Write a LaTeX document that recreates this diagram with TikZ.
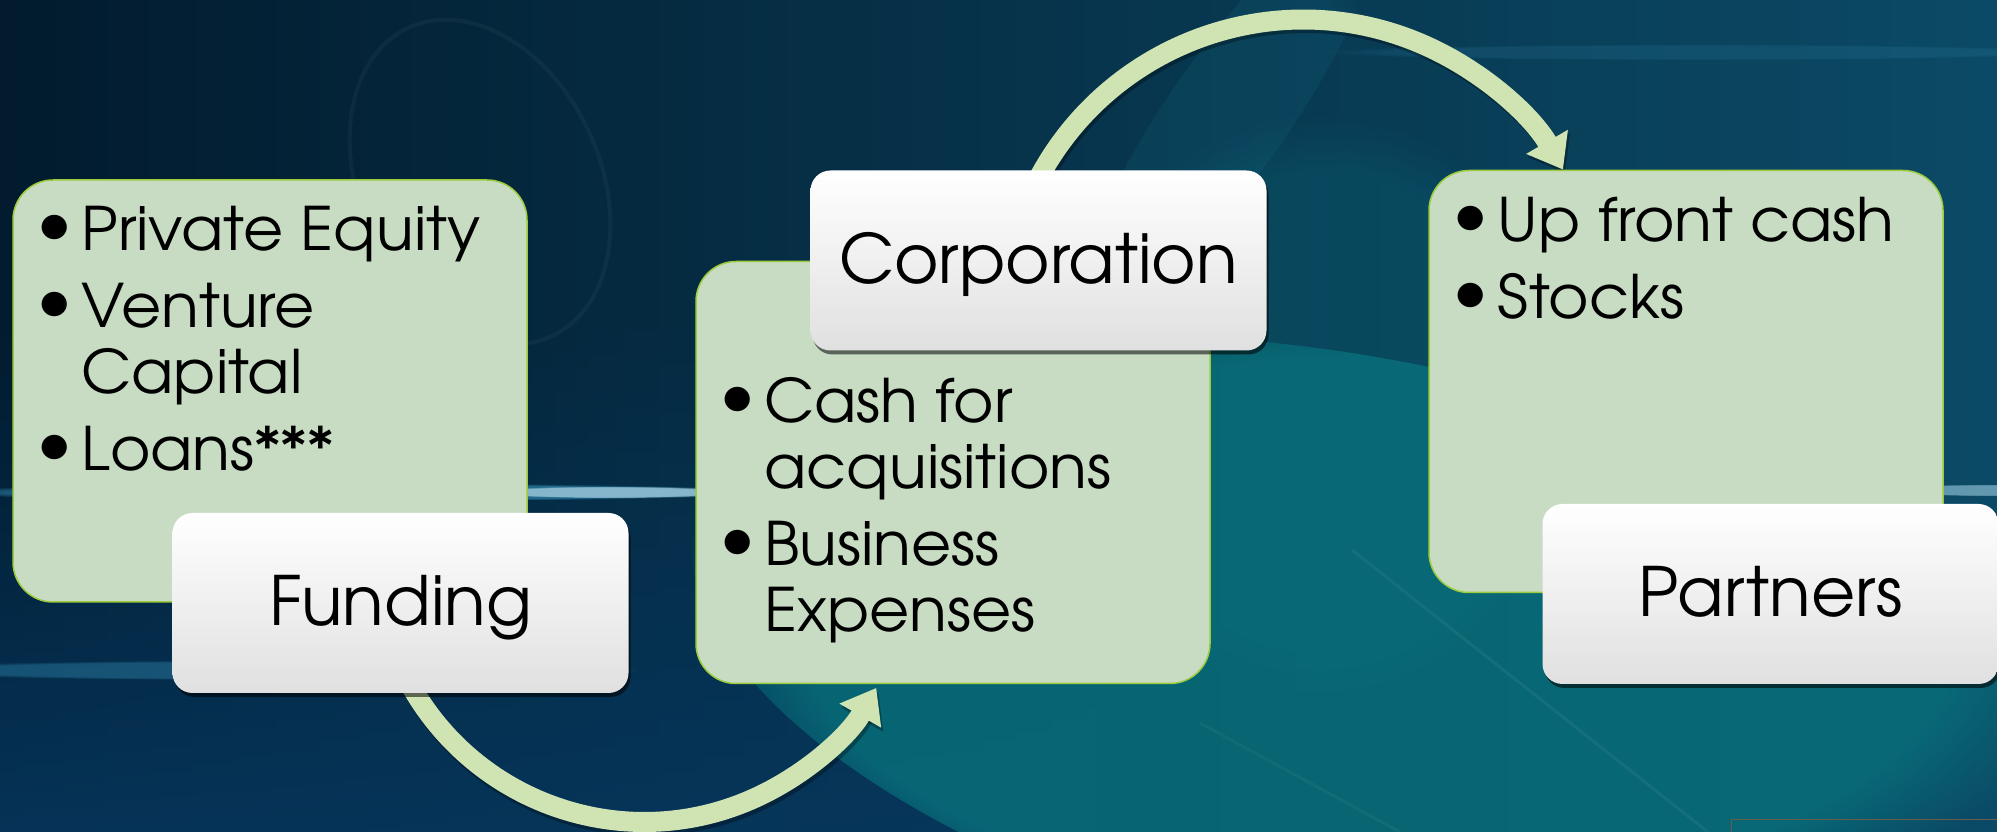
\documentclass[tikz,border=0pt]{standalone}
\usepackage{fontspec}
\setmainfont{TeX Gyre Adventor}
\newfontfamily\listfont[FakeStretch=1.03]{TeX Gyre Adventor}
\usetikzlibrary{arrows.meta,shadows,fadings}

\definecolor{bgdark}{HTML}{021B2E}
\definecolor{bgmid}{HTML}{083C5C}
\definecolor{bgright}{HTML}{0B4A66}
\definecolor{bgnavy}{HTML}{06375E}
\definecolor{tealglow}{HTML}{08717B}
\definecolor{beam}{HTML}{1B7C92}
\definecolor{streak}{HTML}{3A9CC4}
\definecolor{sage}{HTML}{C8DCC3}
\definecolor{sageedge}{HTML}{9CCB3C}
\definecolor{flowgreen}{HTML}{CFE4B2}
\definecolor{cardgray}{HTML}{E0E0E0}
\definecolor{frameline}{HTML}{6B5B4B}

\pgfdeclarelayer{bglayer}
\pgfdeclarelayer{flowlayer}
\pgfsetlayers{bglayer,flowlayer,main}

% one bulleted line, and a continuation line with the same hanging indent
\newcommand{\listbullet}{\rlap{\hspace{-2pt}\raisebox{6pt}{\fontsize{68}{68}\selectfont\textbullet}}\hspace{43pt}}
\newcommand{\listline}[1]{\hbox{\listbullet#1}}
\newcommand{\listcont}[1]{\hbox{\hspace{43pt}#1}}
\newcommand{\itemgap}{\vskip 11pt}

\begin{document}
\begin{tikzpicture}[x=1pt,y=1pt,
  panel/.style={draw=sageedge, line width=1.5pt, fill=sage, rounded corners=40pt,
    minimum width=514pt, minimum height=422pt, inner sep=0pt},
  card/.style={rounded corners=20pt, minimum width=456pt, minimum height=180pt,
    inner sep=0pt, top color=white, middle color=white!97!cardgray, bottom color=cardgray,
    drop shadow={shadow xshift=2pt, shadow yshift=-4pt, opacity=0.55, fill=black},
    font=\fontsize{68}{68}\selectfont, text height=50pt, text depth=4pt},
  listtext/.style={inner sep=0pt, anchor=base west,
    font=\listfont\fontsize{60}{66}\selectfont},
  flow/.style={draw=flowgreen, line width=20pt,
    -{Triangle[length=32pt, width=46pt]}},
  flowshadow/.style={draw=black, opacity=0.3, line width=20pt,
    -{Triangle[length=32pt, width=46pt]}},
  glow/.style={path fading=circle with fuzzy edge 20 percent}
]
\useasboundingbox (0,0) rectangle (1997,832);

% ---------- backdrop ----------
\begin{pgfonlayer}{bglayer}
  \shade[left color=bgdark, middle color=bgmid, right color=bgright] (0,0) rectangle (1997,832);
  \fill[bgnavy, path fading=north, opacity=0.85] (0,0) rectangle (1100,520);
  \fill[tealglow, glow, opacity=0.8, rotate around={-12:(1380,170)}] (1380,170) ellipse [x radius=700, y radius=300];
  \fill[tealglow, glow, opacity=0.25] (1320,420) ellipse [x radius=260, y radius=300];
  \fill[beam, glow, opacity=0.15, rotate around={-35:(1230,720)}] (1230,720) ellipse [x radius=60, y radius=240];
  % light streaks
  \fill[streak, glow, opacity=0.55] (360,340) ellipse [x radius=420, y radius=9];
  \fill[white!60!streak, glow, opacity=0.7] (610,340) ellipse [x radius=130, y radius=6];
  \fill[streak, glow, opacity=0.35] (260,162) ellipse [x radius=380, y radius=10];
  \fill[white!50!streak, glow, opacity=0.6] (1990,342) ellipse [x radius=110, y radius=6];
  \fill[streak, glow, opacity=0.15] (1700,780) ellipse [x radius=380, y radius=8];
  % faint rings and diagonal strands
  \draw[white, opacity=0.04, line width=4pt, rotate around={25:(480,650)}] (480,650) ellipse [x radius=120, y radius=170];
  \draw[white, opacity=0.05, line width=3pt] (1352,282) -- (1708,0);
  \draw[white, opacity=0.04, line width=3pt] (1200,109) -- (1400,0);
  % frame corner
  \draw[frameline, line width=1pt] (1731,0) -- (1731,12) -- (1997,12);
\end{pgfonlayer}

% ---------- panels ----------
\node[panel] (fundpanel) at (270,441) {};
\node[panel] (corppanel) at (953,359.5) {};
\node[panel] (partpanel) at (1686,450.5) {};

\node[listtext] (fundlist) at ([xshift=26pt,yshift=-71pt]fundpanel.north west)
  {\vtop{\baselineskip=66pt
    \listline{Private Equity}\itemgap
    \listline{Venture}
    \listcont{Capital}\itemgap
    \listline{Loans***}}};

\node[listtext] (corplist) at ([xshift=26pt,yshift=-162pt]corppanel.north west)
  {\vtop{\baselineskip=66pt
    \listline{Cash for}
    \listcont{acquisitions}\itemgap
    \listline{Business}
    \listcont{Expenses}}};

\node[listtext] (partlist) at ([xshift=26pt,yshift=-72pt]partpanel.north west)
  {\vtop{\baselineskip=66pt
    \listline{Up front cash}\itemgap
    \listline{Stocks}}};

% ---------- title cards ----------
\node[card] (fund) at (400.5,229) {Funding};
\node[card] (corp) at (1038.5,571.5) {Corporation};
\node[card] (part) at (1770.5,238) {Partners};

% ---------- curved connectors ----------
\begin{pgfonlayer}{flowlayer}
  \draw[flowshadow] ([xshift=231pt,yshift=22pt]fund.south west)
    arc[start angle=205, end angle=330, radius=268];
  \draw[flow] ([xshift=229pt,yshift=26pt]fund.south west)
    arc[start angle=205, end angle=330, radius=268];
  \draw[flowshadow] ([xshift=223pt,yshift=-26pt]corp.north west)
    arc[start angle=155, end angle=30, radius=300];
  \draw[flow] ([xshift=221pt,yshift=-22.5pt]corp.north west)
    arc[start angle=155, end angle=30, radius=300];
\end{pgfonlayer}
\end{tikzpicture}
\end{document}
